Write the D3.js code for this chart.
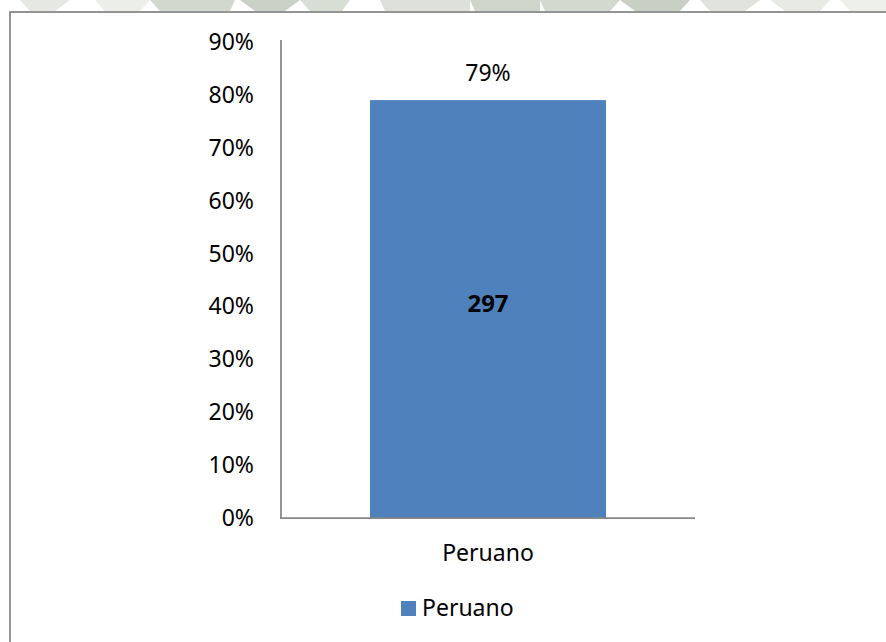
<!DOCTYPE html>
<html>
<head>
<meta charset="utf-8">
<script src="https://cdn.jsdelivr.net/npm/d3@7"></script>
<style>
  html, body { margin: 0; padding: 0; background: #fff; }
  svg { display: block; }
  text { font-family: "Noto Sans", "Open Sans", sans-serif; fill: #000; }
</style>
</head>
<body>
<svg id="chart" width="886" height="642"></svg>
<script>
// Chart data
const categories = ["Peruano"];
const percentValues = [0.79];
const countValues = [297];
const seriesName = "Peruano";
const yTicks = [0, 0.1, 0.2, 0.3, 0.4, 0.5, 0.6, 0.7, 0.8, 0.9];

const svg = d3.select("#chart");
const W = 886, H = 642;

// Faint emblem pattern peeking above the chart frame
const wm = svg.append("g");
const wmShapes = [
  { pts: [[20,0],[70,0],[55,11],[30,11]], c: "#e6e9e3" },
  { pts: [[95,0],[150,0],[140,11],[105,11]], c: "#eceee9" },
  { pts: [[150,0],[235,0],[230,11],[160,11]], c: "#d3d8cf" },
  { pts: [[240,0],[300,0],[285,11],[255,11]], c: "#c9d0c5" },
  { pts: [[300,0],[350,0],[342,11],[310,11]], c: "#d9ded5" },
  { pts: [[380,0],[470,0],[470,11],[385,11]], c: "#dde1da" },
  { pts: [[470,0],[540,0],[540,11],[475,11]], c: "#cfd5cb" },
  { pts: [[540,0],[620,0],[610,11],[545,11]], c: "#d4d9d0" },
  { pts: [[620,0],[690,0],[680,11],[635,11]], c: "#c8cfc4" },
  { pts: [[700,0],[760,0],[745,11],[710,11]], c: "#dfe3dc" },
  { pts: [[770,0],[830,0],[820,11],[785,11]], c: "#e8ebe5" },
  { pts: [[840,0],[886,0],[886,11],[850,11]], c: "#eef0ec" }
];
wm.selectAll("polygon").data(wmShapes).join("polygon")
  .attr("points", d => d.pts.map(p => p.join(",")).join(" "))
  .attr("fill", d => d.c);

// Chart frame (continues past the right and bottom edges)
svg.append("rect")
  .attr("x", 10).attr("y", 12)
  .attr("width", W + 20).attr("height", H + 20)
  .attr("fill", "#fff")
  .attr("stroke", "#868686")
  .attr("stroke-width", 1.75);

// Plot area
const plot = { left: 281, right: 695, top: 42, bottom: 518 };

const x = d3.scaleBand()
  .domain(categories)
  .range([plot.left, plot.right])
  .paddingInner(0.43)
  .paddingOuter(0.215);

const y = d3.scaleLinear()
  .domain([0, 0.9])
  .range([plot.bottom, plot.bottom - 0.9 * 529]);

const fmtPct = d3.format(".0%");
const labelSize = "23px";

// Y axis labels
svg.append("g").selectAll("text").data(yTicks).join("text")
  .attr("x", 254)
  .attr("y", d => y(d))
  .attr("dy", "0.35em")
  .attr("text-anchor", "end")
  .style("font-size", labelSize)
  .text(d => fmtPct(d));

// Bars
const rows = categories.map((c, i) => ({ cat: c, pct: percentValues[i], n: countValues[i] }));
svg.append("g").selectAll("rect").data(rows).join("rect")
  .attr("x", d => x(d.cat))
  .attr("y", d => y(d.pct))
  .attr("width", x.bandwidth())
  .attr("height", d => y(0) - y(d.pct))
  .attr("fill", "#4f81bd");

// Axis lines
svg.append("line")
  .attr("x1", plot.left).attr("x2", plot.left)
  .attr("y1", y(0.9) - 2).attr("y2", plot.bottom)
  .attr("stroke", "#868686").attr("stroke-width", 1.75);
svg.append("line")
  .attr("x1", plot.left - 1).attr("x2", plot.right)
  .attr("y1", plot.bottom).attr("y2", plot.bottom)
  .attr("stroke", "#868686").attr("stroke-width", 1.75);

// Percentage labels above bars
svg.append("g").selectAll("text").data(rows).join("text")
  .attr("x", d => x(d.cat) + x.bandwidth() / 2)
  .attr("y", d => y(d.pct) - 27)
  .attr("dy", "0.35em")
  .attr("text-anchor", "middle")
  .style("font-size", labelSize)
  .text(d => fmtPct(d.pct));

// Count labels inside bars
svg.append("g").selectAll("text").data(rows).join("text")
  .attr("x", d => x(d.cat) + x.bandwidth() / 2)
  .attr("y", d => (y(d.pct) + y(0)) / 2 - 5)
  .attr("dy", "0.35em")
  .attr("text-anchor", "middle")
  .style("font-size", "24px")
  .style("font-weight", "bold")
  .text(d => d.n);

// Category labels
svg.append("g").selectAll("text").data(categories).join("text")
  .attr("x", d => x(d) + x.bandwidth() / 2)
  .attr("y", 553)
  .attr("dy", "0.35em")
  .attr("text-anchor", "middle")
  .style("font-size", labelSize)
  .text(d => d);

// Legend
const legend = svg.append("g");
legend.append("rect")
  .attr("x", 401).attr("y", 601)
  .attr("width", 15).attr("height", 15)
  .attr("fill", "#4f81bd");
legend.append("text")
  .attr("x", 422).attr("y", 608)
  .attr("dy", "0.35em")
  .style("font-size", labelSize)
  .text(seriesName);
</script>
</body>
</html>
